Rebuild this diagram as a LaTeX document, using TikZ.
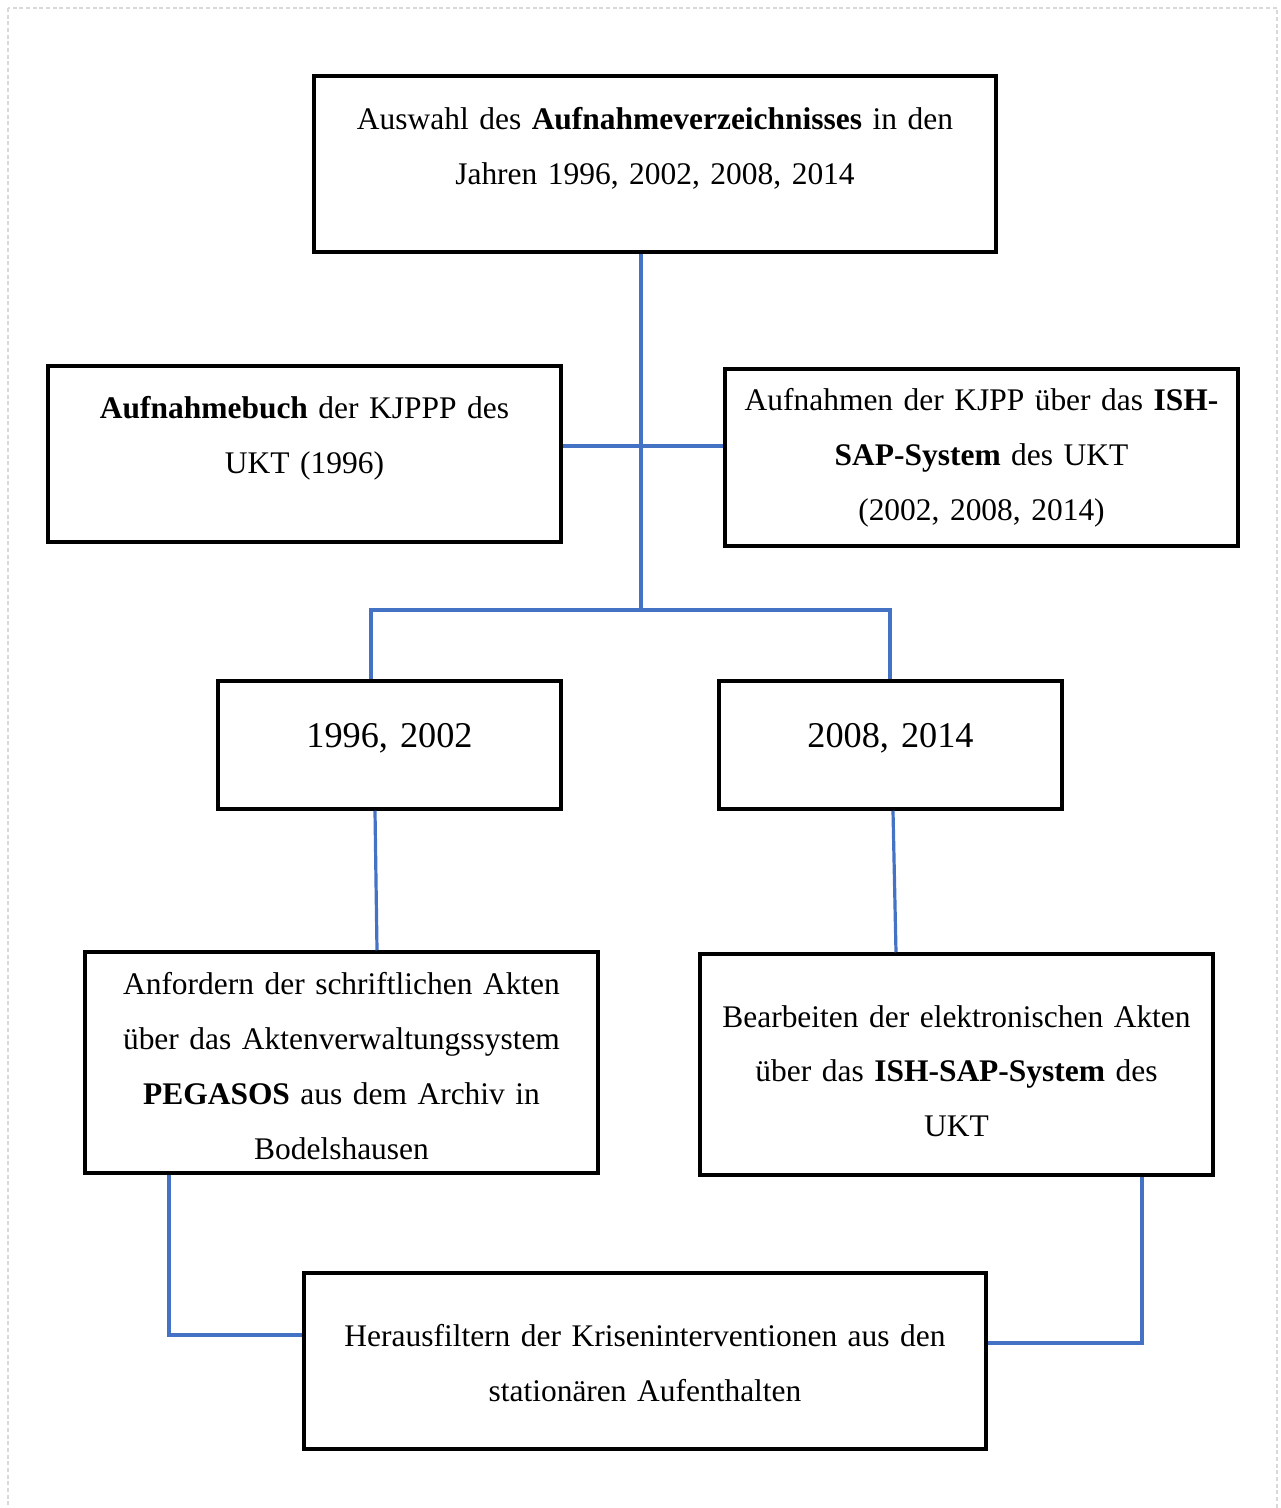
\documentclass[tikz,border=0pt]{standalone}
\usepackage{fontspec}
\setmainfont{Liberation Serif}
\usetikzlibrary{positioning,calc}
\definecolor{linkblue}{HTML}{4472C4}
\tikzstyle{frame} = [
        rectangle, draw, line width=1.3pt,
        inner xsep=2pt, inner ysep=0pt, align=center,
        font=\fontsize{11.8pt}{20.6pt}\selectfont
    ]
\tikzstyle{widebox} = [frame, minimum width=255.75pt, text width=251pt, minimum height=66pt]
\tikzstyle{midbox} = [frame, minimum width=192.4pt, text width=188pt]
\tikzstyle{yearbox} = [frame, minimum width=128.6pt, text width=124pt,
        minimum height=48pt, font=\fontsize{13.6pt}{20.6pt}\selectfont]
\tikzstyle{line} = [draw, linkblue, line width=1.2pt]

\begin{document}
\begin{tikzpicture}[x=0.375pt, y=-0.375pt]
    \useasboundingbox (0,0) rectangle (1280,1508);
    \draw [gray!30, line width=0.75pt, dash pattern=on 1.5pt off 1pt] (8,8) rectangle (1277,1530);

    \node [widebox] (select) at (655,164)
        {Auswahl des \textbf{Aufnahmeverzeichnisses} in den\\Jahren 1996, 2002, 2008, 2014\par\kern12pt};
    \node [midbox, minimum height=66pt] (book) at (304.5,454)
        {\textbf{Aufnahmebuch} der KJPPP des\\UKT (1996)\par\kern12pt};
    \node [midbox, minimum height=66.4pt] (sap) at (981.5,457.5)
        {Aufnahmen der KJPP über das \textbf{ISH-}\\\textbf{SAP-System} des UKT\\(2002, 2008, 2014)};
    \node [yearbox] (early) at (389.5,745) {1996, 2002\par\kern5.2pt};
    \node [yearbox] (late) at (890.5,745) {2008, 2014\par\kern5.2pt};
    \node [midbox, minimum height=82.9pt] (files) at (341.5,1062.5)
        {\rule{0pt}{11pt}Anfordern der schriftlichen Akten\\über das Aktenverwaltungssystem\\\textbf{PEGASOS} aus dem Archiv in\\Bodelshausen};
    \node [midbox, minimum height=82.9pt] (efiles) at (956.5,1064.5)
        {\rule{0pt}{13.2pt}Bearbeiten der elektronischen Akten\\über das \textbf{ISH-SAP-System} des\\UKT};
    \node [widebox] (filter) at (645,1361)
        {\rule{0pt}{9.6pt}Herausfiltern der Kriseninterventionen aus den\\stationären Aufenthalten};

    % junctions
    \coordinate (cross) at (641,446);
    \coordinate (fork) at (641,610);

    \path [line] (select.south -| fork) -- (fork);
    \path [line] (book.east |- cross) -- (sap.west |- cross);
    \path [line] ($(early.north)+(-18.5,0)$) |- (fork) -| ($(late.north)+(-0.5,0)$);
    \path [line] ($(early.south)+(-14.5,0)$) -- ($(files.north)+(35.5,0)$);
    \path [line] ($(late.south)+(2.5,0)$) -- ($(efiles.north)+(-60.5,0)$);
    \path [line] ($(files.south)+(-172.5,0)$) |- ($(filter.west)+(0,-26)$);
    \path [line] ($(efiles.south)+(185.5,0)$) |- ($(filter.east)+(0,-18)$);
\end{tikzpicture}
\end{document}
